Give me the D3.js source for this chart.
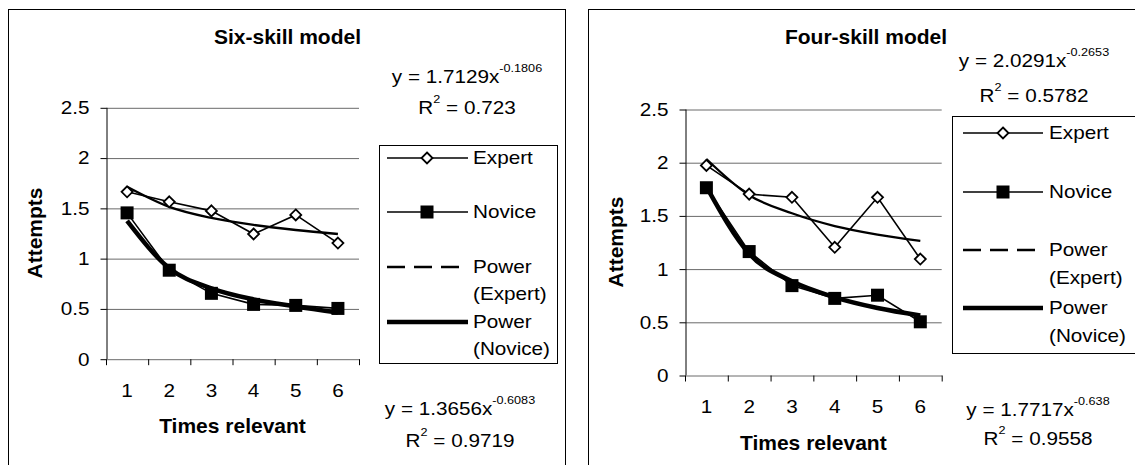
<!DOCTYPE html>
<html><head><meta charset="utf-8">
<script src="https://cdn.jsdelivr.net/npm/d3@7"></script>
<style>body{margin:0;background:#fff;} svg{display:block;} text{font-family:"Liberation Sans",Arial,sans-serif;white-space:pre;fill:#000;}</style>
</head><body><svg id="c" width="1135" height="465"></svg>
<script>
// ---- data ----
const categories = ["1","2","3","4","5","6"];
const yTickValues = [0, 0.5, 1, 1.5, 2, 2.5];
const yTickLabels = ["0","0.5","1","1.5","2","2.5"];
const chartTitles = ["Six-skill model","Four-skill model"];
const xAxisTitle = "Times relevant";
const yAxisTitle = "Attempts";
const legendLabels = [["Expert"],["Novice"],["Power","(Expert)"],["Power","(Novice)"]];

const sixExpert     = [1.66, 1.56, 1.47, 1.24, 1.43, 1.15];
const sixNovice     = [1.45, 0.88, 0.65, 0.54, 0.53, 0.50];
const sixExpertFit  = [1.71, 1.51, 1.40, 1.33, 1.28, 1.24];
const sixNoviceFit  = [1.37, 0.90, 0.70, 0.59, 0.52, 0.46];
const sixFitText    = [["1.7129","-0.1806","0.723"],["1.3656","-0.6083","0.9719"]];

const fourExpert    = [1.97, 1.70, 1.67, 1.20, 1.67, 1.09];
const fourNovice    = [1.76, 1.16, 0.84, 0.72, 0.75, 0.50];
const fourExpertFit = [2.03, 1.69, 1.52, 1.40, 1.32, 1.26];
const fourNoviceFit = [1.77, 1.14, 0.88, 0.73, 0.63, 0.56];
const fourFitText   = [["2.0291","-0.2653","0.5782"],["1.7717","-0.638","0.9558"]];

// ---- layout ----
const SX = 1.15;        // horizontal text stretch of the original rendering
const FS = 18, FSUP = 11, FB = 21;
const svg = d3.select("#c");

function stext(g, x, y, anchor, size, weight) {
  return g.append("text")
    .attr("transform", `translate(${x},${y}) scale(${SX},1)`)
    .attr("text-anchor", anchor)
    .style("font-size", size + "px")
    .style("font-weight", weight || "normal");
}

function equation(g, cx, b1, b2, f) {
  const t1 = stext(g, cx, b1, "middle", FS);
  t1.append("tspan").text("y = " + f[0] + "x");
  t1.append("tspan").attr("dy", -11).style("font-size", FSUP + "px").text(f[1]);
  const t2 = stext(g, cx, b2, "middle", FS);
  t2.append("tspan").text("R");
  t2.append("tspan").attr("dy", -11).style("font-size", FSUP + "px").text("2");
  t2.append("tspan").attr("dy", 11).style("font-size", FS + "px").text(" = " + f[2]);
}

function diamond(g, cx, cy, r) {
  g.append("path").attr("d", `M${cx},${cy - r}L${cx + r},${cy}L${cx},${cy + r}L${cx - r},${cy}Z`)
    .attr("fill", "#fff").attr("stroke", "#000").attr("stroke-width", 1.8);
}
function square(g, cx, cy, s) {
  g.append("rect").attr("x", cx - s / 2).attr("y", cy - s / 2).attr("width", s).attr("height", s).attr("fill", "#000");
}

function drawChart(cfg, title, expert, novice, expertFit, noviceFit, fitText) {
  const g = svg.append("g");
  // frame
  g.append("rect").attr("x", cfg.frame[0] + 0.5).attr("y", cfg.frame[1] + 0.5)
    .attr("width", cfg.frame[2]).attr("height", 600)
    .attr("fill", "none").attr("stroke", "#000").attr("stroke-width", 1);

  const x = d3.scaleBand().domain(categories).range([cfg.left, cfg.right]).padding(0);
  const cx = c => x(c) + x.bandwidth() / 2;
  const y = d3.scaleLinear().domain([0, 2.5]).range([cfg.bottom, cfg.top]);
  const xEdge = d3.scaleLinear().domain([0, categories.length]).range([cfg.left, cfg.right]);

  // gridlines
  const grid = g.append("g").attr("transform", `translate(${cfg.left},0)`)
    .call(d3.axisLeft(y).tickValues(yTickValues.filter(v => v > 0)).tickSize(-(cfg.right - cfg.left)).tickFormat(""));
  grid.select(".domain").remove();
  grid.selectAll("line").attr("stroke", "#6a6a6a").attr("stroke-width", 1)
    .attr("transform", "translate(0,0.5)");

  // y axis
  const ya = g.append("g").attr("transform", `translate(${cfg.left + 0.5},0)`)
    .call(d3.axisLeft(y).tickValues(yTickValues).tickSize(6).tickSizeOuter(0)
      .tickFormat((d, i) => yTickLabels[i]));
  ya.select(".domain").attr("stroke", "#000");
  ya.selectAll(".tick line").attr("stroke", "#000").attr("transform", "translate(0,0.5)");
  ya.selectAll(".tick text")
    .attr("x", 0).attr("dy", null).attr("y", 0)
    .attr("transform", `translate(${cfg.yLabelRight - cfg.left},6.4) scale(${SX},1)`)
    .style("font-size", FS + "px").style("font-family", null).attr("fill", "#000");

  // x axis line + boundary ticks
  const xt = g.append("g").attr("transform", `translate(0,${cfg.bottom + 0.5})`)
    .call(d3.axisBottom(xEdge).tickValues(d3.range(categories.length + 1)).tickSize(6).tickSizeOuter(0).tickFormat(""));
  xt.select(".domain").attr("stroke", "#6a6a6a");
  xt.selectAll(".tick line").attr("stroke", "#000");
  // x labels
  const xl = g.append("g").attr("transform", `translate(0,${cfg.bottom})`)
    .call(d3.axisBottom(x).tickSize(0));
  xl.select(".domain").remove();
  xl.selectAll(".tick text").attr("y", 0).attr("dy", null)
    .attr("transform", `translate(0,${cfg.xLabelBase - cfg.bottom}) scale(${SX},1)`)
    .style("font-size", FS + "px").style("font-family", null).attr("fill", "#000");

  // trendlines
  const lineS = d3.line().x((d, i) => cx(categories[i])).y(d => y(d));
  const lineC = d3.line().x((d, i) => cx(categories[i])).y(d => y(d)).curve(d3.curveMonotoneX);
  g.append("path").attr("d", lineC(expertFit)).attr("fill", "none").attr("stroke", "#000").attr("stroke-width", 2.3);
  g.append("path").attr("d", lineC(noviceFit)).attr("fill", "none").attr("stroke", "#000").attr("stroke-width", 4.5);
  // series lines
  g.append("path").attr("d", lineS(expert)).attr("fill", "none").attr("stroke", "#000").attr("stroke-width", 1.6);
  g.append("path").attr("d", lineS(novice)).attr("fill", "none").attr("stroke", "#000").attr("stroke-width", 1.6);
  // markers
  expert.forEach((v, i) => diamond(g, cx(categories[i]), y(v), 5.5));
  novice.forEach((v, i) => square(g, cx(categories[i]), y(v), 13));

  // titles
  g.append("text").attr("x", cfg.titleX).attr("y", 44).attr("text-anchor", "middle")
    .style("font-size", FB + "px").style("font-weight", "bold").text(title);
  g.append("text").attr("x", (cfg.left + cfg.right) / 2).attr("y", cfg.xTitleBase).attr("text-anchor", "middle")
    .style("font-size", FB + "px").style("font-weight", "bold").text(xAxisTitle);
  g.append("text").attr("transform", `translate(${cfg.yTitleX},${(cfg.top + cfg.bottom) / 2}) rotate(-90)`)
    .attr("text-anchor", "middle").style("font-size", FB + "px").style("font-weight", "bold").text(yAxisTitle);

  // equations
  equation(g, cfg.eq1[0], cfg.eq1[1], cfg.eq1[2], fitText[0]);
  equation(g, cfg.eq2[0], cfg.eq2[1], cfg.eq2[2], fitText[1]);

  // legend
  const L = cfg.legend;
  g.append("rect").attr("x", L.box[0] + 0.5).attr("y", L.box[1] + 0.5).attr("width", L.box[2]).attr("height", L.box[3])
    .attr("fill", "#fff").attr("stroke", "#000").attr("stroke-width", 1);
  const styles = [
    {w: 1.6, dash: null, mark: "d"},
    {w: 1.6, dash: null, mark: "s"},
    {w: 2.3, dash: "18,9", mark: null},
    {w: 4.5, dash: null, mark: null}
  ];
  legendLabels.forEach((lab, i) => {
    const ry = L.rows[i];
    const st = styles[i];
    g.append("line").attr("x1", L.x1).attr("x2", st.dash ? L.x2 - 8 : L.x2).attr("y1", ry).attr("y2", ry)
      .attr("stroke", "#000").attr("stroke-width", st.w).attr("stroke-dasharray", st.dash);
    if (st.mark === "d") diamond(g, L.mx, ry, 5.5);
    if (st.mark === "s") square(g, L.mx, ry, 13);
    lab.forEach((s, j) => stext(g, L.tx, ry + 6.4 + j * L.gap, "start", FS).text(s));
  });
}

drawChart({
  frame: [8, 9, 557], left: 106, right: 359, top: 107.3, bottom: 358.7,
  yLabelRight: 89, xLabelBase: 397, xTitleBase: 433, yTitleX: 42, titleX: 287.5,
  eq1: [467, 83, 114], eq2: [460, 415, 447],
  legend: {box: [379, 145, 178, 218], x1: 387, x2: 468, mx: 427, tx: 473, rows: [158, 212, 267, 322], gap: 27}
}, chartTitles[0], sixExpert, sixNovice, sixExpertFit, sixNoviceFit, sixFitText);

drawChart({
  frame: [588, 9, 600], left: 685, right: 941.7, top: 109, bottom: 375,
  yLabelRight: 668, xLabelBase: 413, xTitleBase: 450, yTitleX: 623, titleX: 866,
  eq1: [1034, 67, 102], eq2: [1038, 416, 445],
  legend: {box: [952, 116, 200, 237], x1: 963, x2: 1043, mx: 1003, tx: 1049, rows: [133, 192, 250, 308], gap: 28}
}, chartTitles[1], fourExpert, fourNovice, fourExpertFit, fourNoviceFit, fourFitText);
</script></body></html>
